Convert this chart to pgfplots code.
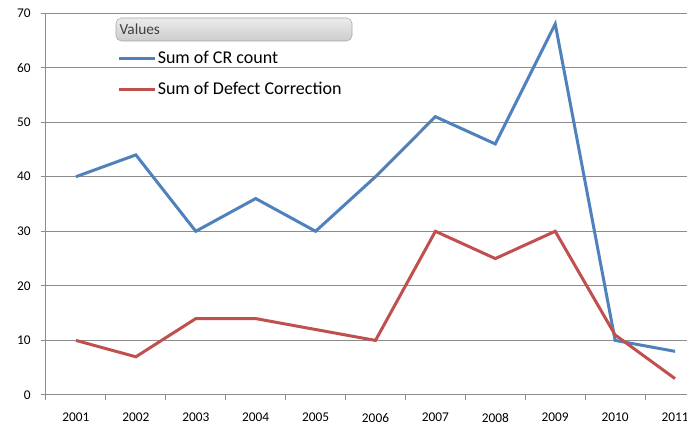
\documentclass[border=0pt]{standalone}
\usepackage{pgfplots}
\pgfplotsset{compat=1.18}
\usepackage{fontspec}
\setmainfont{Carlito}
\definecolor{cblue}{HTML}{4F81BD}
\definecolor{cred}{HTML}{C0504D}
\definecolor{gridc}{HTML}{8C8C8C}
\begin{document}
\begin{tikzpicture}[x=1pt,y=1pt]
\begin{axis}[
  at={(34.5pt,24pt)}, anchor=south west,
  scale only axis, width=494.25pt, height=286.5pt,
  xmin=-0.5, xmax=10.5, ymin=0, ymax=70,
  axis x line*=bottom, axis y line*=left,
  axis line style={gridc, line width=0.75pt},
  xtick={0,...,10},
  xticklabels={2001,2002,2003,2004,2005,2006,2007,2008,2009,2010,2011},
  minor xtick={-0.5,0.5,...,10.5},
  ytick={0,10,...,70},
  tick align=outside,
  major x tick style={draw=none},
  minor tick length=4pt,
  major tick length=4pt,
  every tick/.style={gridc, line width=0.75pt},
  ymajorgrids,
  major grid style={gridc, line width=0.75pt},
  tick label style={font=\fontsize{10}{12}\selectfont, black},
  xticklabel style={yshift=-6pt},
  yticklabel style={xshift=-4pt},
  /pgf/number format/assume math mode=true,
  clip=false,
  legend style={at={(rel axis cs:0.108,0.905)}, anchor=north west, draw=none, fill=none,
    font=\fontsize{13.5}{15}\selectfont, row sep=10.5pt, inner sep=0pt,
    nodes={inner sep=1pt}},
  legend cell align=left,
  legend image code/.code={\draw[#1] (0pt,0pt) -- (27pt,0pt);},
]
\addplot[cblue, line width=2.25pt] coordinates {
(0,40) (1,44) (2,30) (3,36) (4,30) (5,40) (6,51) (7,46) (8,68) (9,10) (10,8)};
\addlegendentry{Sum of CR count}
\addplot[cred, line width=2.25pt] coordinates {
(0,10) (1,7) (2,14) (3,14) (4,12) (5,10) (6,30) (7,25) (8,30) (9,11) (10,3)};
\addlegendentry{Sum of Defect Correction}
\end{axis}
\shade[top color=gray!15, bottom color=gray!40, draw=gray!70, rounded corners=4pt]
  (87pt,306.75pt) rectangle (264pt,289.5pt);
\node[anchor=west, inner sep=0pt, text=black!75, font=\fontsize{11.5}{13}\selectfont] at (89.5pt,298.5pt) {Values};
\pgfresetboundingbox
\path (0,0) rectangle (515.25pt,320.25pt);
\end{tikzpicture}
\end{document}
